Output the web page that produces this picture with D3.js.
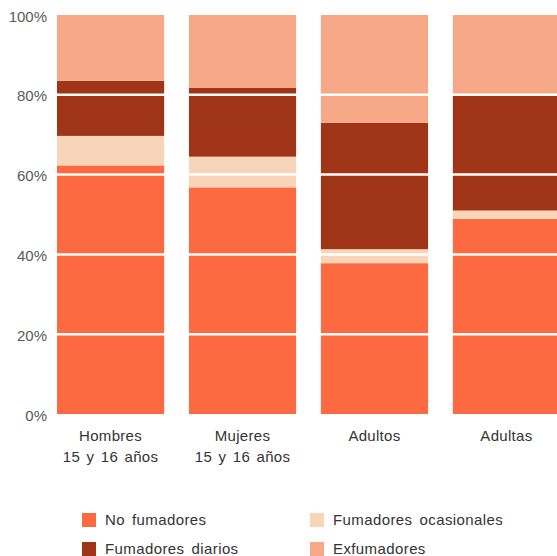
<!DOCTYPE html>
<html>
<head>
<meta charset="utf-8">
<script src="https://cdn.jsdelivr.net/npm/d3@7"></script>
<style>
  body { margin: 0; background: #fff; }
  text { font-family: "Liberation Sans", Arial, sans-serif; }
</style>
</head>
<body>
<div id="visSpace"></div>
<script>
//Data (percent of each group)
var categories = ["Hombres|15 y 16 años", "Mujeres|15 y 16 años", "Adultos", "Adultas"];
var seriesNames = ["No fumadores", "Fumadores ocasionales", "Fumadores diarios", "Exfumadores"];
var noFumadores = [62.3, 56.8, 37.8, 48.9];
var ocasionales = [7.4, 7.7, 3.5, 2.1];
var diarios = [13.8, 17.2, 31.7, 29.1];
var exfumadores = [16.5, 18.3, 27.0, 19.9];
var tickValues = [0, 20, 40, 60, 80, 100];
var colorRange = ["#fd6a42", "#f8d4b8", "#a03416", "#f7a886"];

//Set the svg size
var width = 557, height = 556;
var svg = d3.select("#visSpace")
            .append("svg")
            .attr("width", width)
            .attr("height", height);

//Scales
var x = d3.scaleBand()
          .domain(categories)
          .range([57, 560])
          .paddingInner(0.188)
          .paddingOuter(0);
var y = d3.scaleLinear()
          .domain([0, 100])
          .range([414, 15]);

//Build rows for the stack
var rows = categories.map(function(c, i) {
  return {cat: c, "No fumadores": noFumadores[i], "Fumadores ocasionales": ocasionales[i],
          "Fumadores diarios": diarios[i], "Exfumadores": exfumadores[i]};
});
var stacked = d3.stack().keys(seriesNames)(rows);

var layers = svg.append("g")
                .selectAll("g")
                .data(stacked)
                .enter()
                .append("g")
                .attr("fill", function(d, i){return colorRange[i];});
layers.selectAll("rect")
      .data(function(d){return d;})
      .enter()
      .append("rect")
      .attr("x", function(d){return x(d.data.cat);})
      .attr("width", x.bandwidth())
      .attr("y", function(d){return y(d[1]);})
      .attr("height", function(d){return y(d[0]) - y(d[1]);});

//White grid lines running over the bars
svg.append("g")
   .selectAll("line")
   .data(tickValues.filter(function(t){return t > 0 && t < 100;}))
   .enter()
   .append("line")
   .attr("x1", 40)
   .attr("x2", width)
   .attr("y1", function(d){return y(d);})
   .attr("y2", function(d){return y(d);})
   .attr("stroke", "#fff")
   .attr("stroke-width", 2.5);

//Y axis labels
var yAxis = svg.append("g")
               .attr("transform", "translate(47,0)")
               .call(d3.axisLeft(y).tickValues(tickValues)
                       .tickSize(0).tickPadding(0)
                       .tickFormat(function(d){return d + "%";}));
yAxis.select(".domain").remove();
yAxis.selectAll("text")
     .attr("font-family", "'Liberation Sans', Arial, sans-serif")
     .attr("font-size", "15px")
     .attr("fill", "#5a5a5a")
     .attr("dy", "0.4em");

//Category labels (two lines)
var catLabels = svg.append("g")
                   .selectAll("text")
                   .data(categories)
                   .enter()
                   .append("text")
                   .attr("x", function(d){return x(d) + x.bandwidth() / 2;})
                   .attr("y", 441)
                   .attr("text-anchor", "middle")
                   .attr("font-size", "15px")
                   .attr("fill", "#333");
catLabels.selectAll("tspan")
         .data(function(d){return d.split("|");})
         .enter()
         .append("tspan")
         .attr("x", function(){return d3.select(this.parentNode).attr("x");})
         .attr("dy", function(d, i){return i ? 21 : 0;})
         .attr("word-spacing", "2px")
         .attr("letter-spacing", "0.3px")
         .text(function(d){return d;});

//Legend
var legendPos = [{x: 82, y: 513}, {x: 310, y: 513}, {x: 82, y: 542}, {x: 310, y: 542}];
var legendOrder = [0, 1, 2, 3];
var legend = svg.append("g")
                .selectAll("g")
                .data(legendOrder)
                .enter()
                .append("g")
                .attr("transform", function(d, i){return "translate(" + legendPos[i].x + "," + legendPos[i].y + ")";});
legend.append("rect")
      .attr("width", 14)
      .attr("height", 14)
      .attr("fill", function(d){return colorRange[d];});
legend.append("text")
      .attr("x", 23)
      .attr("y", 12)
      .attr("font-size", "15px")
      .attr("fill", "#333")
      .attr("word-spacing", "2.5px")
      .attr("letter-spacing", "0.4px")
      .text(function(d){return seriesNames[d];});
</script>
</body>
</html>
